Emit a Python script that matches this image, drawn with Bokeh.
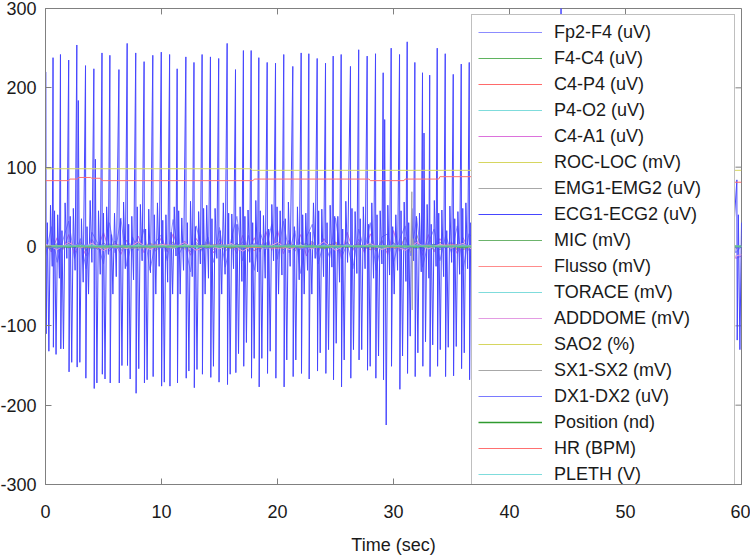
import numpy as np
from bokeh.plotting import figure
from bokeh.models import Legend, LegendItem, FixedTicker
from bokeh.embed import file_html
from bokeh.resources import INLINE

# ---------------- data (read / estimated from the reference) ----------------
x_ticks = [0, 10, 20, 30, 40, 50, 60]
y_ticks = [-300, -200, -100, 0, 100, 200, 300]
x_tick_labels = ["0", "10", "20", "30", "40", "50", "60"]
y_tick_labels = ["-300", "-200", "-100", "0", "100", "200", "300"]
x_lim = (0, 60)
y_lim = (-300, 300)

labels = ["Fp2-F4 (uV)", "F4-C4 (uV)", "C4-P4 (uV)", "P4-O2 (uV)", "C4-A1 (uV)",
          "ROC-LOC (mV)", "EMG1-EMG2 (uV)", "ECG1-ECG2 (uV)", "MIC (mV)", "Flusso (mV)",
          "TORACE (mV)", "ADDDOME (mV)", "SAO2 (%)", "SX1-SX2 (mV)", "DX1-DX2 (uV)",
          "Position (nd)", "HR (BPM)", "PLETH (V)"]

# ECG beats: R time, R peak, S trough, post-S wave, 2nd trough, T wave, U dip
beat_t = [0.03, 0.65, 1.29, 2.0, 2.7, 3.45, 4.17, 4.87, 5.55, 6.33,
          7.04, 7.78, 8.5, 9.25, 9.98, 10.7, 11.35, 12.1, 12.8, 13.5,
          14.22, 14.93, 15.66, 16.38, 17.06, 17.73, 18.39, 19.11, 19.83, 20.54,
          21.32, 22.04, 22.7, 23.42, 24.14, 24.8, 25.49, 26.29, 27.0, 27.73,
          28.45, 29.11, 29.8, 30.52, 31.18, 31.84, 32.5, 33.12, 33.77, 34.46,
          35.15, 35.84, 36.53, 43.75, 44.45, 58.6, 59.6]
r_amp = [220, 238, 242, 235, 254, 228, 224, 244, 241, 223,
         256, 244, 233, 241, 245, 242, 224, 239, 232, 242,
         239, 237, 256, 223, 247, 247, 238, 232, 231, 242,
         227, 244, 243, 237, 231, 240, 242, 227, 248, 240,
         243, 219, 250, 242, 258, 232, 219, 216, 250, 243,
         217, 230, 232, 240, 330, 235, 84]
s_amp = [-110, -127, -129, -158, -152, -166, -179, -161, -172, -172,
         -150, -185, -172, -164, -176, -176, -172, -166, -178, -161,
         -165, -171, -174, -159, -151, -166, -177, -160, -166, -177,
         -164, -160, -167, -157, -160, -168, -177, -166, -143, -156,
         -166, -168, -151, -180, -160, -164, -151, -164, -151, -164,
         -163, -154, -168, -160, -165, -160, -118]
a_amp = [30, 45, 20, 38, 184, 25, 110, 42, 15, 35,
         28, 50, 22, 40, 33, 18, 45, 30, 25, 48,
         35, 20, 42, 28, 38, 30, 45, 22, 50, 35,
         25, 40, 18, 45, 30, 38, 22, 48, 35, 28,
         40, 160, 25, 45, 30, 38, 143, 28, 42, 20,
         35, 48, 30, 30, 30, 30, 40]
s2_amp = [-132, -136, -129, -146, -146, -60, -172, -167, -60, -150,
          -167, -154, -168, -60, -171, -60, -60, -157, -155, -60,
          -151, -60, -161, -135, -121, -141, -141, -132, -60, -143,
          -143, -60, -60, -134, -130, -122, -143, -130, -130, -151,
          -138, -225, -60, -138, -113, -134, -120, -124, -130, -127,
          -126, -134, -60, -60, -60, -60, -130]
tw_amp = [52, 40, 55, 48, 35, 58, 45, 50, 42, 56,
          38, 53, 47, 55, 40, 50, 36, 57, 44, 52,
          48, 55, 41, 50, 46, 58, 39, 53, 45, 56,
          50, 42, 55, 47, 52, 38, 57, 44, 50, 55,
          45, 52, 40, 56, 48, 42, 53, 58, 46, 51,
          44, 55, 40, 40, 40, 40, 30]
u_amp = [-25, -40, -15, -30, -45, -20, -35, -10, -38, -28,
         -42, -18, -33, -25, -45, -12, -30, -38, -22, -40,
         -15, -35, -28, -44, -20, -32, -40, -18, -36, -25,
         -42, -30, -15, -38, -26, -45, -20, -34, -28, -40,
         -22, -36, -30, -44, -18, -32, -40, -25, -38, -20,
         -35, -28, -30, -20, -20, -20, -20]

# small channels sampled every 0.5 s
c4a1 = [3, -7, 11, -4, 15, -9, 6, -12, 9, -3,
        18, -6, 4, -10, 8, -2, 13, -8, 5, -5,
        12, -7, 16, -4, 7, -11, 10, -3, 6, -8,
        9, -2, 5, -9, 14, -6, 11, -7, 19, -5,
        21, -9, 8, -4, 15, -12, 6, -7, 10, -3,
        6, -13, 18, -5, 9, -8, 16, -4, 7, -10,
        20, -6, 12, -4, 8, -11, 15, -7, 10, -3,
        6, -9, 11, -5, 7, -8, 12, -6, 8, -4,
        9, -7, 13, -3, 6, -10, 8, -5, 11, -6,
        7, -8, 10, -4, 12, -9, 6, -5, 9, -7,
        8, -6, 11, -3, 7, -10, 13, -5, 6, -8,
        10, -4, 7, -9, 12, -6, 5, -8, 3, -15, -12]
fp2f4 = [-12, 25, -20, 8, 32, -15, 10, -28, 18, 4,
         -22, 30, -8, 36, -25, 12, -5, 22, -30, 6,
         15, -18, 34, -10, 5, -32, 26, -6, 12, -20,
         24, -26, 8, 38, -18, 14, -30, 18, -4, 28,
         -16, 32, -8, 20, -34, 12, 28, -22, 6, -14,
         36, -15, 4, -28, 22, -6, 30, -30, 12, 16,
         -20, 8, 26, -12, 36, -26, 4, 22, -18, 14,
         -8, 26, -30, 16, 8, -22, 32, -12, 20, -26,
         12, -16, 34, -8, 22, -28, 8, 26, -20, 4,
         -24, 18, -4, 30, -16, 12, -32, 20, 8, -12,
         26, -20, 12, -8, 30, -24, 16, 4, -28, 20,
         -12, 34, -16, 8, -24, 20, 12, -20, 24, -8, 0]
emg = [2, -5, 4, -3, 6, -2, 5, -6, 3, -4,
       5, -3, 7, -5, 2, -4, 6, -2, 4, -6,
       3, -5, 6, -2, 4, -7, 5, -3, 7, -4,
       4, -6, 2, -3, 6, -5, 3, -4, 5, -2,
       6, -4, 3, -6, 5, -2, 7, -5, 2, -3,
       4, -7, 6, -3, 5, -4, 3, -6, 8, -5,
       5, -3, 12, -8, 15, -6, 4, -5, 6, -3,
       3, -5, 6, -4, 2, -6, 5, -2, 4, -5,
       6, -3, 4, -6, 5, -2, 3, -5, 7, -4,
       2, -4, 6, -3, 5, -7, 4, -2, 3, -6,
       5, -3, 7, -4, 2, -5, 6, -3, 4, -2,
       3, -6, 5, -4, 6, -3, 8, -5, 4, -3, 2]
f4c4 = [1, -3, 2, -1, 4, -2, 3, -4, 1, 2,
        -2, 3, -3, 1, 2, -4, 3, -1, 2, -2,
        4, -2, 1, -3, 3, -1, 2, -4, 3, 1,
        -3, 2, -1, 4, -2, 1, 3, -3, 2, -1,
        2, -4, 3, -2, 1, 4, -3, 2, -1, 3,
        -2, 1, 4, -3, 2, -1, 3, -2, 1, -4,
        3, -1, 2, -3, 4, -2, 1, 3, -4, 2,
        -1, 3, -2, 1, -3, 4, -2, 2, -1, 3,
        2, -3, 1, 4, -2, 1, -3, 3, -2, 1,
        -4, 2, 3, -1, 2, -3, 4, -2, 1, -1,
        3, -2, 1, -4, 3, 2, -1, 3, -3, 2,
        -2, 4, -1, 2, -3, 1, 3, -2, 2, -1, 0]
# small channels sampled every 1 s
c4p4 = [2, -3, 4, -2, 1, -4, 3, -1, 5, -3, 2, -2, 4, -4, 1, 3, -2, 2, -5, 3,
        -1, 4, -3, 2, -2, 5, -1, 3, -4, 1, 2, -3, 4, -2, 3, -1, -4, 2, 1, -3,
        4, -2, 3, -1, 2, -4, 1, 3, -2, 4, -3, 2, -1, 3, -2, 1, 4, -3, 2, -1, 0]
p4o2 = [-1, 3, -2, 4, -3, 1, 2, -4, 3, -1, 4, -2, 1, -3, 3, -1, 2, -4, 1, 3,
        -2, 4, -1, 2, -3, 1, 3, -2, 4, -4, 1, 2, -3, 3, -1, 4, -2, 1, -3, 2,
        3, -1, 4, -2, 1, -3, 2, 3, -4, 1, -2, 3, -1, 4, -3, 2, -1, 1, 3, -2, 0]
rocloc = [1, -2, 3, -1, 2, -3, 1, 2, -2, 4, -1, 2, -3, 1, 3, -2, 1, -4, 2, -1,
          3, -2, 1, 2, -3, 4, -1, 2, -2, 1, -3, 2, 1, -1, 3, -2, 2, -4, 1, 3,
          -1, 2, -3, 1, 2, -2, 4, -1, 1, -3, 2, -1, 3, -2, 1, 2, -3, 1, -1, 2, 0]
mic = [0, 1, -1, 2, -2, 1, 0, -1, 2, -1, 1, -2, 2, 0, -1, 1, -2, 1, 2, -1,
       0, 2, -1, 1, -2, 0, 1, -1, 2, -2, 1, 0, -1, 2, -1, 1, -2, 0, 1, -1,
       2, -1, 0, 1, -2, 2, -1, 1, 0, -1, 1, -2, 2, -1, 0, 1, -1, 2, -2, 1, 0]
adddome = [3, -4, 5, -2, 4, -5, 2, -3, 6, -4, 3, -2, 5, -5, 2, -3, 4, -6, 3, -2,
           5, -4, 2, -3, 6, -5, 3, -2, 4, -4, 2, -5, 5, -3, 3, -2, 4, -6, 2, -4,
           5, -3, 3, -5, 4, -2, 6, -4, 2, -3, 4, -5, 3, -2, 5, -4, 2, -8, -12, -14, -10]
torace = [1, -2, 2, -1, 2, -2, 1, -1, 2, -2, 1, -2, 2, -1, 1, -2, 2, -1, 2, -2,
          1, -1, 2, -2, 1, -2, 2, -1, 1, -2, 2, -1, 2, -2, 1, -1, 2, -2, 1, -2,
          2, -1, 1, -2, 2, -1, 2, -2, 1, -1, 2, -2, 1, -2, 2, -1, 1, -2, 2, -1, 0]
dx1dx2 = [0, -2, 1, 3, -1, 2, -3, 1, 0, 2, -2, 3, -1, 1, -3, 2, 0, -1, 3, -2,
          1, 2, -3, 0, 2, -1, 3, -2, 1, -1, 2, -3, 1, 3, -2, 0, 2, -1, -3, 1,
          3, -2, 0, 2, -1, 1, -3, 2, 3, -2, 0, 1, -2, 3, -1, 2, -3, 0, 1, -2, 0]
flusso = [1, -1, 2, 0, -2, 1, -1, 2, -1, 0, 1, -2, 0]
position = [0, 0]
pleth = [0.5, 0.5]

sx_t = [0, 8, 15, 22, 29, 31.5, 31.58, 31.62, 31.66, 31.72, 38, 45, 52, 60]
sx_v = [1, -2, 2, -1, 1, 0, 69, -80, 10, 0, 1, -1, 2, 0]

sao2_t = [0, 17.7, 17.85, 60]
sao2_v = [98, 98, 96, 96]

hr_t = [0, 2.0, 2.1, 2.75, 2.85, 3.9, 4.0, 4.75, 4.85, 17.9, 18.0, 27.9, 28.0,
        30.9, 31.0, 33.9, 34.0, 37.0, 59.0, 60]
hr_v = [83, 83, 85, 85, 87, 87, 86, 86, 83, 83, 85, 85, 83,
        83, 85, 85, 88, 88, 81, 81]

# ---------------- styling ----------------
FONT = "Liberation Sans"
FRAME = "#808080"
TEXT = "#1a1a1a"
WAVE_OFFSETS = (0.0, 0.03, 0.13, 0.26, 0.40, 0.55)  # waveform vertex timing within a beat
TICK_LEN_X = 0.52   # 6 px in x data units
TICK_LEN_Y = 7.5    # 6 px in y data units


def grid(vals):
    return np.linspace(x_lim[0], x_lim[1], len(vals))


ecg_x, ecg_y = [], []
for row in zip(beat_t, r_amp, s_amp, a_amp, s2_amp, tw_amp, u_amp):
    t0 = row[0]
    for off, v in zip(WAVE_OFFSETS, row[1:]):
        ecg_x.append(t0 + off)
        ecg_y.append(v)

p = figure(width=758, height=557, x_range=x_lim, y_range=y_lim,
           output_backend="svg", toolbar_location=None,
           min_border_left=53, min_border_right=9, min_border_top=8, min_border_bottom=72)
p.styles = {"position": "absolute", "left": "-8px", "top": "0px"}
p.xgrid.visible = False
p.ygrid.visible = False
p.outline_line_color = FRAME
p.background_fill_color = "white"
p.border_fill_color = "white"

# mirrored inward ticks on the top and right edges of the box
p.segment(x0=x_ticks, y0=[y_lim[1]] * len(x_ticks), x1=x_ticks,
          y1=[y_lim[1] - TICK_LEN_Y] * len(x_ticks), line_color=FRAME, line_width=1)
p.segment(x0=[x_lim[1]] * len(y_ticks), y0=y_ticks, x1=[x_lim[1] - TICK_LEN_X] * len(y_ticks),
          y1=y_ticks, line_color=FRAME, line_width=1)

series = [
    (grid(fp2f4), fp2f4, "#8c8cff", 1),
    (grid(f4c4), f4c4, "#5fb35f", 1),
    (grid(c4p4), c4p4, "#ff6a6a", 1),
    (grid(p4o2), p4o2, "#7fdcdc", 1),
    (grid(c4a1), c4a1, "#dc72dc", 1),
    (grid(rocloc), rocloc, "#d6d660", 1),
    (grid(emg), emg, "#a8a8a8", 1),
    (ecg_x, ecg_y, "#4646ff", 1),
    (grid(mic), mic, "#6cb46c", 1),
    (grid(flusso), flusso, "#ff8c8c", 1),
    (grid(torace), torace, "#7fdcdc", 1),
    (grid(adddome), adddome, "#e39ce3", 1),
    (sao2_t, sao2_v, "#d6d660", 1),
    (sx_t, sx_v, "#a8a8a8", 1),
    (grid(dx1dx2), dx1dx2, "#7a7aff", 1),
    (grid(position), position, "#2f9a2f", 1.5),
    (hr_t, hr_v, "#ff7070", 1),
    (grid(pleth), pleth, "#7fdcdc", 1),
]

items = []
for lab, (xs, ys, col, lw) in zip(labels, series):
    r = p.line(list(xs), list(ys), line_color=col, line_width=lw)
    items.append(LegendItem(label=lab, renderers=[r]))

for ax in (p.xaxis[0], p.yaxis[0]):
    ax.major_tick_in = 6
    ax.major_tick_out = 0
    ax.minor_tick_in = 0
    ax.minor_tick_out = 0
    ax.axis_line_color = FRAME
    ax.major_tick_line_color = FRAME
    ax.major_label_text_font = FONT
    ax.major_label_text_font_size = "18px"
    ax.major_label_text_color = TEXT
    ax.major_label_text_line_height = 1.0
p.xaxis[0].ticker = FixedTicker(ticks=x_ticks)
p.yaxis[0].ticker = FixedTicker(ticks=y_ticks)
p.xaxis[0].major_label_overrides = dict(zip(x_ticks, x_tick_labels))
p.yaxis[0].major_label_overrides = dict(zip(y_ticks, y_tick_labels))
p.xaxis[0].major_label_standoff = 20
p.yaxis[0].major_label_standoff = 9
p.xaxis[0].axis_label = "Time (sec)"
p.xaxis[0].axis_label_text_font = FONT
p.xaxis[0].axis_label_text_font_size = "18px"
p.xaxis[0].axis_label_text_font_style = "normal"
p.xaxis[0].axis_label_text_color = TEXT
p.xaxis[0].axis_label_text_line_height = 1.0
p.xaxis[0].axis_label_standoff = 14

legend = Legend(items=items, location=(426, -8), padding=6, spacing=4, margin=0,
                glyph_width=64, glyph_height=22, label_height=22, label_width=174,
                label_standoff=12, label_text_font=FONT, label_text_font_size="18px",
                label_text_color=TEXT,
                border_line_color=FRAME, border_line_width=1,
                background_fill_color="white", background_fill_alpha=1.0)
p.add_layout(legend, "center")

with open("out.html", "w") as f:
    f.write(file_html(p, INLINE))
